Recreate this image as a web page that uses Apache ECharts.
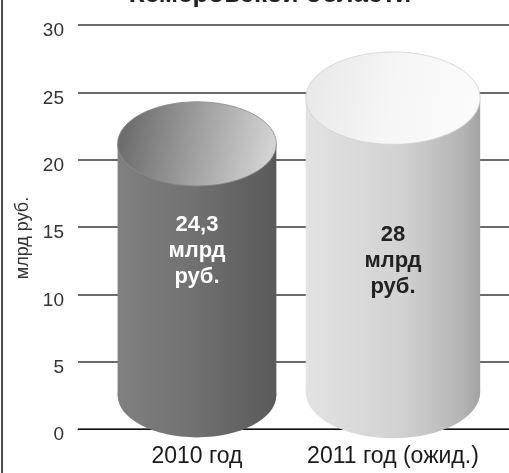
<!DOCTYPE html>
<html>
<head>
<meta charset="utf-8">
<script src="https://cdn.jsdelivr.net/npm/echarts@6/dist/echarts.min.js"></script>
<style>html,body{margin:0;padding:0;background:#fff;}#c{width:509px;height:473px;}</style>
</head>
<body>
<div id="c"></div>
<script>
var titleText = 'Кемеровской области';
var categories = ['2010 год', '2011 год (ожид.)'];
var values = [24.3, 28];
var valueLabels = ['24,3', '28'];
var unitText = 'млрд\nруб.';
var yAxisName = 'млрд руб.';
var yMin = 0, yMax = 30, yStep = 5;

// styling (not data)
var widthFactor = [0.81, 0.89];
var labelAnchor = [13.2, 12.5];
var bodyStops = [
  [[0, '#808080'], [0.45, '#727272'], [1, '#5a5a5a']],
  [[0, '#e2e2e2'], [0.55, '#d2d2d2'], [0.9, '#b4b4b4'], [1, '#a2a2a2']]
];
var topStops = [
  [[0, '#686868'], [0.5, '#a0a0a0'], [1, '#d8d8d8']],
  [[0, '#e8e8e8'], [0.5, '#f6f6f6'], [1, '#fbfbfb']]
];
var textColors = ['#ffffff', '#222222'];
var FONT = '"Liberation Sans", Arial, sans-serif';

var chart = echarts.init(document.getElementById('c'));

function grad(stops, x, y, x2, y2) {
  return new echarts.graphic.LinearGradient(x, y, x2, y2,
    stops.map(function (s) { return { offset: s[0], color: s[1] }; }));
}

chart.setOption({
  animation: false,
  backgroundColor: '#fff',
  grid: { left: 78, right: 0, top: 25, bottom: 44 },
  xAxis: {
    type: 'value',
    min: -0.607, max: 1.592,
    splitLine: { show: false },
    axisTick: { show: false },
    axisLine: { show: true, onZero: false, lineStyle: { color: '#111', width: 1 } },
    axisLabel: {
      customValues: [0, 1],
      formatter: function (v) { return categories[Math.round(v)] || ''; },
      color: '#1a1a1a', fontSize: 23, fontFamily: FONT,
      margin: 16
    }
  },
  yAxis: {
    type: 'value', min: yMin, max: yMax, interval: yStep,
    name: yAxisName, nameLocation: 'middle', nameGap: 46, nameRotate: 90,
    nameTextStyle: { color: '#333', fontSize: 18, fontFamily: FONT, padding: [0, 22, 0, 0] },
    axisLine: { show: false }, axisTick: { show: false },
    axisLabel: { color: '#333', fontSize: 19, margin: 14, fontFamily: FONT, verticalAlign: 'top', lineHeight: 12 },
    splitLine: { show: true, lineStyle: { color: '#6a6a6a', width: 2 } }
  },
  graphic: [
    { type: 'line', shape: { x1: 2, y1: 0, x2: 2, y2: 473 }, style: { stroke: '#111', lineWidth: 1.5 } },
    { type: 'text', x: 270, y: 8, style: { text: titleText, textAlign: 'center', textVerticalAlign: 'bottom',
      font: 'bold 26px ' + FONT, fill: '#222' } }
  ],
  series: [{
    type: 'custom',
    data: values.map(function (v, i) { return [i, v]; }),
    renderItem: function (params, api) {
      var i = params.dataIndex;
      var xi = api.value(0), v = api.value(1);
      var top = api.coord([xi, v]);
      var base = api.coord([xi, 0]);
      var unit = api.size([1, 0])[0];
      var rx = unit * widthFactor[i] / 2;
      var ry = rx * 0.53;
      var cx = top[0];
      var topCy = top[1] + ry;
      var botCy = base[1] - ry * 0.8;
      var lab = api.coord([xi, labelAnchor[i]]);
      return {
        type: 'group',
        children: [
          { type: 'ellipse', shape: { cx: cx, cy: botCy, rx: rx, ry: ry },
            style: { fill: grad(bodyStops[i], 0, 0, 1, 0) } },
          { type: 'rect', shape: { x: cx - rx, y: topCy, width: rx * 2, height: botCy - topCy },
            style: { fill: grad(bodyStops[i], 0, 0, 1, 0) } },
          { type: 'ellipse', shape: { cx: cx, cy: topCy, rx: rx, ry: ry },
            style: { fill: grad(topStops[i], 0, 0.3, 1, 0.7), stroke: i === 0 ? '#8a8a8a' : '#d0d0d0', lineWidth: 0.8 } },
          { type: 'text', x: cx, y: lab[1],
            style: { text: valueLabels[i] + '\n' + unitText, textAlign: 'center', textVerticalAlign: 'middle',
              fill: textColors[i], font: 'bold 22px ' + FONT, lineHeight: 26 } }
        ]
      };
    }
  }]
});
</script>
</body>
</html>
